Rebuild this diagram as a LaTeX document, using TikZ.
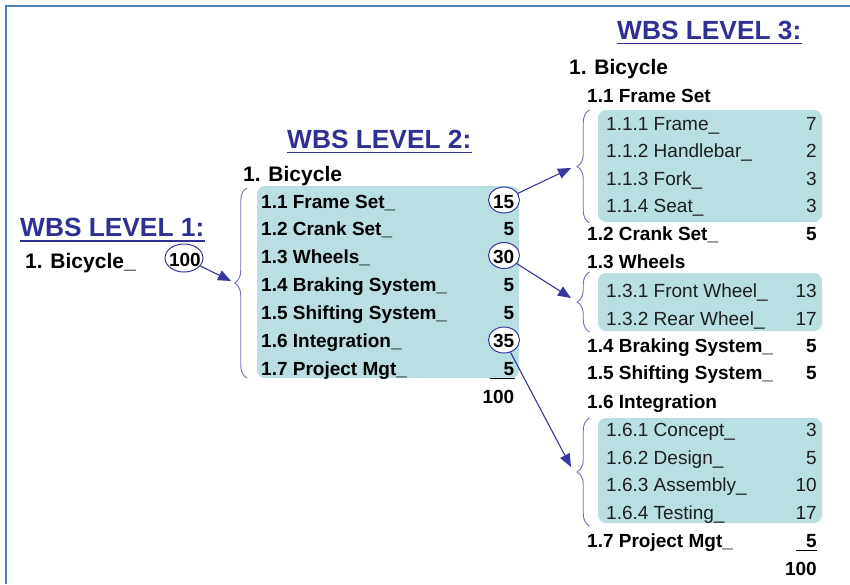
\documentclass[tikz,border=0pt]{standalone}
\usepackage{fontspec}
\setmainfont{Liberation Sans}
\usetikzlibrary{shapes.geometric,decorations.pathreplacing,arrows.meta}
\definecolor{titleblue}{RGB}{46,49,146}
\definecolor{frameblue}{RGB}{79,129,189}
\definecolor{boxteal}{RGB}{185,223,226}
\definecolor{braceblue}{RGB}{112,112,186}
\definecolor{arrowblue}{RGB}{56,56,156}
\begin{document}
\begin{tikzpicture}[x=1pt,y=-1pt,
  title/.style={font=\fontsize{26.3}{30}\selectfont\bfseries, text=titleblue, anchor=base west, inner sep=0pt},
  head/.style={font=\fontsize{21}{24}\selectfont\bfseries, anchor=base west, inner sep=0pt},
  bitem/.style={font=\fontsize{19}{22}\selectfont\bfseries, anchor=base west, inner sep=0pt},
  ritem/.style={font=\fontsize{19}{22}\selectfont, text=black!88, anchor=base west, inner sep=0pt},
  bnum/.style={font=\fontsize{19}{22}\selectfont\bfseries, anchor=base east, inner sep=0pt},
  rnum/.style={font=\fontsize{19}{22}\selectfont, text=black!88, anchor=base east, inner sep=0pt},
  panel/.style={fill=boxteal, rounded corners=8pt},
  ring/.style={ellipse, draw=arrowblue, fill=white, line width=1pt, inner sep=0pt},
  bracket/.style={decorate, decoration={brace, amplitude=12.5pt}, draw=braceblue, line width=0.9pt},
  link/.style={draw=arrowblue, line width=1.1pt, -{Triangle[length=13pt,width=10.5pt]}},
  titleline/.style={draw=titleblue, line width=1.2pt},
  sumline/.style={draw=black, line width=0.9pt}
]
\useasboundingbox (0,0) rectangle (850,584);

% outer frame (top and left edges)
\draw[frameblue, line width=2.3pt] (6.2,584) -- (6.2,6.2) -- (850,6.2);

% ---------- level 1 ----------
\node[title] (t1) at (20,236) {WBS LEVEL 1:};
\draw[titleline] ([yshift=-5pt]t1.base west) -- ([yshift=-5pt]t1.base east);
\node[head] (l1bike) at (25,268) {1. Bicycle\_};
\node[ring, minimum width=38pt, minimum height=28pt] (c100) at (184,258) {};
\node[bnum] (n100) at (201,266) {100};

% ---------- level 2 ----------
\node[title] (t2) at (287,148) {WBS LEVEL 2:};
\draw[titleline] ([yshift=-4.5pt]t2.base west) -- ([yshift=-4.5pt]t2.base east);
\node[head] (l2bike) at (243,181) {1. Bicycle};
\path[panel] (257,186) rectangle (519,378);
\draw[bracket] (247,378) -- (247,188);
\coordinate (b1tip) at (231,281);

\node[bitem] (i11) at (261,208)   {1.1 Frame Set\_};
\node[bitem] (i12) at (261,235.5) {1.2 Crank Set\_};
\node[bitem] (i13) at (261,263)   {1.3 Wheels\_};
\node[bitem] (i14) at (261,291)   {1.4 Braking System\_};
\node[bitem] (i15) at (261,319)   {1.5 Shifting System\_};
\node[bitem] (i16) at (261,347)   {1.6 Integration\_};
\node[bitem] (i17) at (261,375)   {1.7 Project Mgt\_};

\node[ring, minimum width=31pt, minimum height=26pt] (c15) at (504,200) {};
\node[ring, minimum width=31pt, minimum height=26pt] (c30) at (504,255.5) {};
\node[ring, minimum width=31pt, minimum height=26pt] (c35) at (504,340) {};

\node[bnum] (v11) at (514.5,208)   {15};
\node[bnum] (v12) at (514.5,235.5) {5};
\node[bnum] (v13) at (514.5,263)   {30};
\node[bnum] (v14) at (514.5,291)   {5};
\node[bnum] (v15) at (514.5,319)   {5};
\node[bnum] (v16) at (514.5,347)   {35};
\node[bnum] (v17) at (514.5,375)   {5};
\draw[sumline] (490,378) -- (515,378);
\node[bnum] (v1tot) at (514.5,403) {100};

% ---------- level 3 ----------
\node[title] (t3) at (617,39) {WBS LEVEL 3:};
\draw[titleline] ([yshift=-4.5pt]t3.base west) -- ([yshift=-4.5pt]t3.base east);
\node[head] (l3bike) at (569,74) {1. Bicycle};

\path[panel] (598,110) rectangle (822,222);
\path[panel] (598,273) rectangle (822,331);
\path[panel] (598,418) rectangle (822,523);
\draw[bracket] (589.5,223) -- (589.5,110);
\draw[bracket] (589.5,332) -- (589.5,272);
\draw[bracket] (589.5,526) -- (589.5,418);
\coordinate (b2tip) at (571,168);
\coordinate (b3tip) at (571,298);
\coordinate (b4tip) at (571,467);

\node[bitem] (h11) at (587,102) {1.1 Frame Set};
\node[ritem] (s111) at (606,130)   {1.1.1 Frame\_};
\node[ritem] (s112) at (606,157.5) {1.1.2 Handlebar\_};
\node[ritem] (s113) at (606,185)   {1.1.3 Fork\_};
\node[ritem] (s114) at (606,212)   {1.1.4 Seat\_};
\node[rnum] (w111) at (817,130)   {7};
\node[rnum] (w112) at (817,157.5) {2};
\node[rnum] (w113) at (817,185)   {3};
\node[rnum] (w114) at (817,212)   {3};

\node[bitem] (h12) at (587,240) {1.2 Crank Set\_};
\node[bnum]  (w12) at (817,240) {5};
\node[bitem] (h13) at (587,268) {1.3 Wheels};
\node[ritem] (s131) at (606,297) {1.3.1 Front Wheel\_};
\node[ritem] (s132) at (606,325) {1.3.2 Rear Wheel\_};
\node[rnum] (w131) at (817,297) {13};
\node[rnum] (w132) at (817,325) {17};

\node[bitem] (h14) at (587,352) {1.4 Braking System\_};
\node[bnum]  (w14) at (817,352) {5};
\node[bitem] (h15) at (587,379) {1.5 Shifting System\_};
\node[bnum]  (w15) at (817,379) {5};
\node[bitem] (h16) at (587,408) {1.6 Integration};
\node[ritem] (s161) at (606,436.5) {1.6.1 Concept\_};
\node[ritem] (s162) at (606,464)   {1.6.2 Design\_};
\node[ritem] (s163) at (606,491.5) {1.6.3 Assembly\_};
\node[ritem] (s164) at (606,519)   {1.6.4 Testing\_};
\node[rnum] (w161) at (817,436.5) {3};
\node[rnum] (w162) at (817,464)   {5};
\node[rnum] (w163) at (817,491.5) {10};
\node[rnum] (w164) at (817,519)   {17};

\node[bitem] (h17) at (587,547) {1.7 Project Mgt\_};
\node[bnum]  (w17) at (817,547) {5};
\draw[sumline] (796,550) -- (817,550);
\node[bnum] (w3tot) at (817,575) {100};

% ---------- connectors ----------
\draw[link] (c100) -- (b1tip);
\draw[link] (c15) -- (b2tip);
\draw[link] (c30) -- (b3tip);
\draw[link] (c35) -- (b4tip);
\end{tikzpicture}
\end{document}
